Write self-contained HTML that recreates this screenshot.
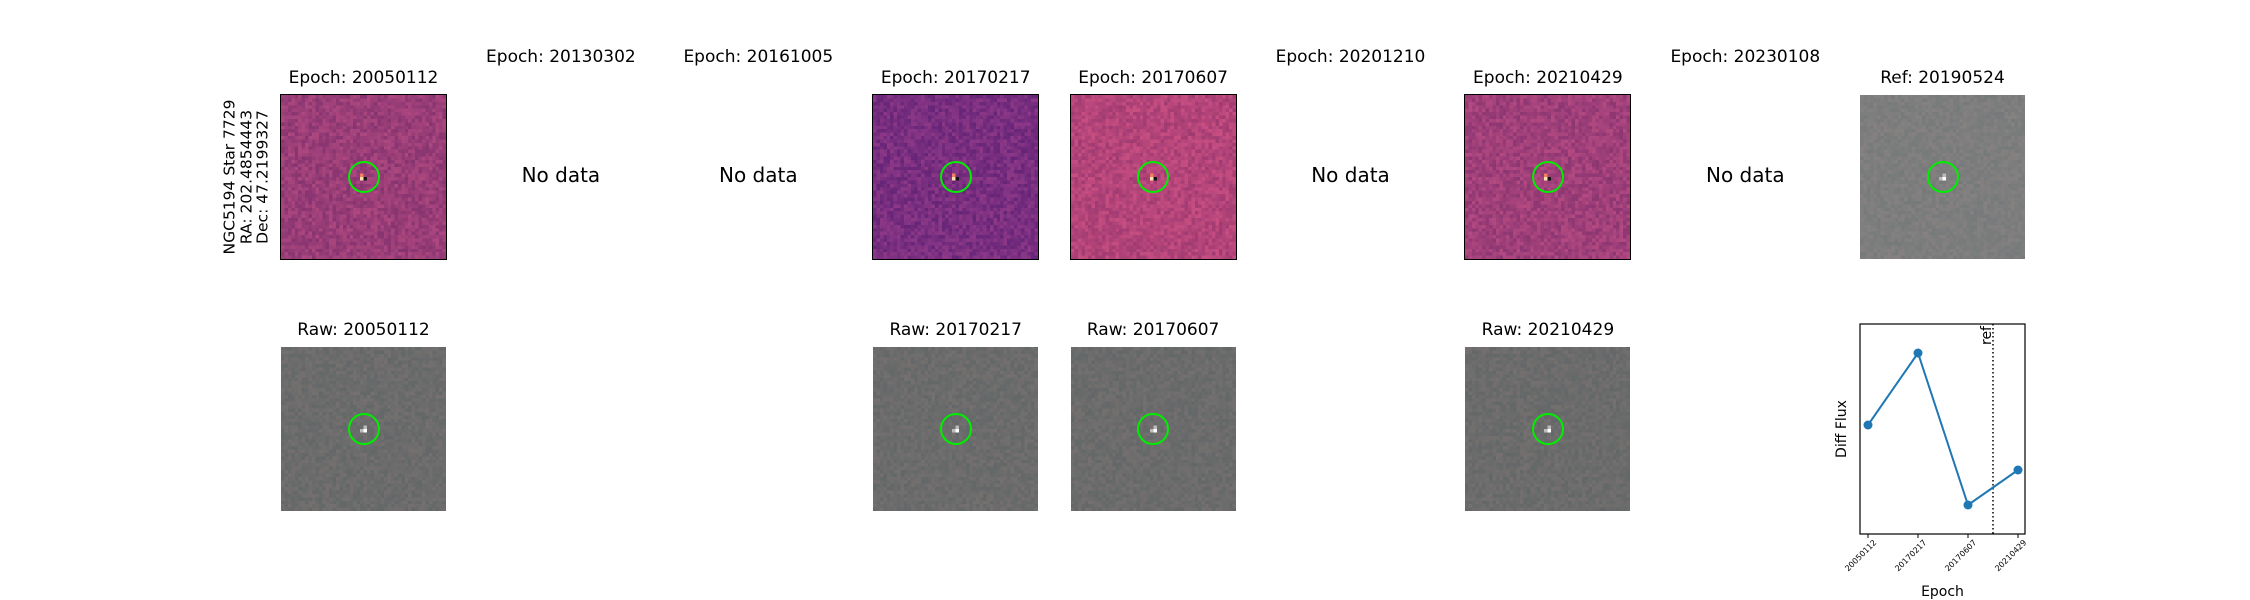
<!DOCTYPE html>
<html><head><meta charset="utf-8"><style>
body{margin:0;width:2250px;height:600px;background:#fff;position:relative;overflow:hidden;font-family:"DejaVu Sans","Liberation Sans",sans-serif;color:#000}
.t{position:absolute;font-size:17px;text-align:center;width:240px;white-space:nowrap}
.nd{position:absolute;font-size:20px;text-align:center;width:240px}
canvas{position:absolute}
.circ{position:absolute;width:32px;height:32px;border:2px solid #00ee00;border-radius:50%;box-sizing:border-box}
</style></head><body>
<div style="position:absolute;left:246px;top:177px;transform:translate(-50%,-50%) rotate(-90deg);font-size:15.5px;line-height:16.5px;text-align:center;white-space:nowrap">NGC5194 Star 7729<br>RA: 202.4854443<br>Dec: 47.2199327</div>
<div id="panels"></div>
<svg id="chart" width="2250" height="600" style="position:absolute;left:0;top:0"></svg>
<script>
const epochs=["20050112","20130302","20161005","20170217","20170607","20201210","20210429","20230108"];
const hasData=[1,0,0,1,1,0,1,0];
const diffBg=["#9a3e78","","","#7a2f80","#b4457a","","#a0407a",""];
const lcEpochs=["20050112","20170217","20170607","20210429"];
const lcFlux=[109,181,29,64];
const refIndex=2.5;
const P=document.getElementById('panels');
let seed=7;function rnd(){seed=(seed*1103515245+12345)%2147483648;return seed/2147483648;}
function hex(c){return[parseInt(c.slice(1,3),16),parseInt(c.slice(3,5),16),parseInt(c.slice(5,7),16)];}
function img(x,y,base,amp,border,name){
  const c=document.createElement('canvas');c.width=48;c.height=48;
  c.style.left=x+'px';c.style.top=y+'px';c.style.width='165px';c.style.height='164px';c.style.imageRendering='pixelated';
  if(border){c.style.outline='1.5px solid #000';}
  
  
  const g=c.getContext('2d');const b=hex(base);
  for(let i=0;i<48;i++)for(let j=0;j<48;j++){const n=(rnd()-0.5)*amp;g.fillStyle=`rgb(${b[0]+n|0},${b[1]+n*0.5|0},${b[2]+n*0.4|0})`;g.fillRect(i,j,1,1);}
  if(border){g.fillStyle='#111';g.fillRect(24,24,1,1);g.fillStyle='#f08060';g.fillRect(23,23,1,1);g.fillStyle='#ffe0b0';g.fillRect(23,24,1,1);}
  else{g.fillStyle='#fff';g.fillRect(24,24,1,1);g.fillStyle='#bbb';g.fillRect(23,24,1,1);g.fillRect(24,23,1,1);}
  P.appendChild(c);
  const ci=document.createElement('div');ci.className='circ';ci.style.left=(x+82.5-16)+'px';ci.style.top=(y+82-16)+'px';
  
  
  P.appendChild(ci);
}
function title(x,y,txt,name){const d=document.createElement('div');d.className='t';d.style.left=(x+82.5-120)+'px';d.style.top=y+'px';d.textContent=txt;
  
  
  P.appendChild(d);}
epochs.forEach((e,i)=>{
  const x=281+i*197.4;
  if(hasData[i]){
    title(x,68,'Epoch: '+e,'diff-title-'+e);
    img(x,95,diffBg[i],40,true,'diff-image-'+e);
    title(x,320,'Raw: '+e,'raw-title-'+e);
    img(x,347,'#6c6c6c',18,false,'raw-image-'+e);
  } else {
    title(x,47,'Epoch: '+e,'nodata-title-'+e);
    const d=document.createElement('div');d.className='nd';d.style.left=(x+82.5-120)+'px';d.style.top='163px';d.textContent='No data';
    
    
    P.appendChild(d);
  }
});
title(1860,68,'Ref: 20190524','ref-title');
img(1860,95,'#7e7e7e',16,false,'ref-image');
// chart
const S=document.getElementById('chart');const ns='http://www.w3.org/2000/svg';
const L=1860,R=2025,T=324,B=534;
const xs=i=>1868+i*(2018-1868)/(lcEpochs.length-1);
const ys=v=>B-(v-0)/(210-0)*(B-T);
function el(t,a,txt){const e=document.createElementNS(ns,t);for(const k in a)e.setAttribute(k,a[k]);if(txt)e.textContent=txt;S.appendChild(e);return e;}
let fr=el('rect',{x:L,y:T,width:R-L,height:B-T,fill:'none',stroke:'#000','stroke-width':1.2});

let rl=el('line',{x1:xs(refIndex),x2:xs(refIndex),y1:T,y2:B,stroke:'#000','stroke-width':1.5,'stroke-dasharray':'1.5,2.5'});

let rt=el('text',{x:0,y:0,'font-size':14,transform:`translate(${xs(refIndex)-2},${T+2}) rotate(-90)`,'text-anchor':'end'},'ref');

let pl=el('polyline',{points:lcFlux.map((v,i)=>xs(i)+','+ys(v)).join(' '),fill:'none',stroke:'#1f77b4','stroke-width':2});

lcFlux.forEach((v,i)=>{
  const c=el('circle',{cx:xs(i),cy:ys(v),r:4.5,fill:'#1f77b4'});
  
  
  const tk=el('line',{x1:xs(i),x2:xs(i),y1:B,y2:B+4,stroke:'#000'});
  
  
  const tl=el('text',{x:0,y:0,'font-size':8,'text-anchor':'end',transform:`translate(${xs(i)+9},${B+9}) rotate(-45)`},lcEpochs[i]);
  
  
});
let xt=el('text',{x:(L+R)/2,y:596,'font-size':14,'text-anchor':'middle'},'Epoch');

let yt=el('text',{x:0,y:0,'font-size':14,'text-anchor':'middle',transform:`translate(1846,${(T+B)/2}) rotate(-90)`},'Diff Flux');

</script>
</body></html>
